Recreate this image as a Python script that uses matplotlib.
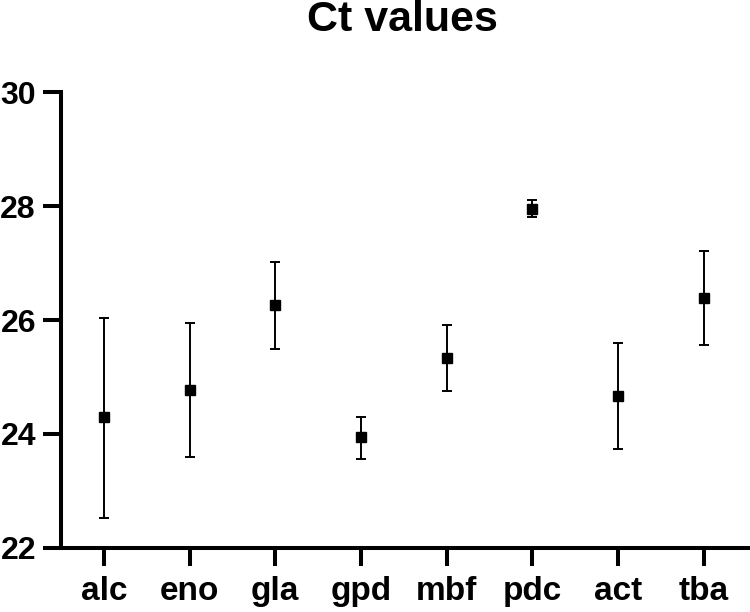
import numpy as np
import matplotlib.pyplot as plt

plt.rcParams['font.family'] = ['Liberation Sans', 'DejaVu Sans']
plt.rcParams['font.weight'] = 'bold'

genes = ['alc', 'eno', 'gla', 'gpd', 'mbf', 'pdc', 'act', 'tba']
ct_mean = [24.29, 24.77, 26.26, 23.94, 25.34, 27.95, 24.67, 26.39]
ct_upper = [26.03, 25.94, 27.02, 24.30, 25.92, 28.10, 25.60, 27.21]
ct_lower = [22.53, 23.59, 25.50, 23.57, 24.76, 27.80, 23.74, 25.57]

mean = np.array(ct_mean)
err = [mean - np.array(ct_lower), np.array(ct_upper) - mean]
x = np.arange(len(genes))

fig = plt.figure(figsize=(7.5, 6.12), dpi=100)
ax = fig.add_axes([0.0813, 0.1046, 0.9187, 0.745])

ax.errorbar(x, mean, yerr=err, fmt='s', color='black', ms=7,
            elinewidth=1.4, capsize=3.4, capthick=1.4)

ax.set_ylim(22, 30)
ax.set_yticks([22, 24, 26, 28, 30])
ax.set_xlim(-0.5, 7.54)
ax.set_xticks(x)
ax.set_xticklabels(genes)

for s in ['top', 'right']:
    ax.spines[s].set_visible(False)
for s in ['left', 'bottom']:
    ax.spines[s].set_linewidth(2.9)
ax.tick_params(axis='both', width=2.9, length=13)
ax.tick_params(axis='y', labelsize=23, pad=5)
ax.tick_params(axis='x', labelsize=24, pad=7)

fig.text(0.536, 0.967, 'Ct values', ha='center', va='center',
         fontsize=31, fontweight='bold')

fig.savefig('out.png', dpi=100)
